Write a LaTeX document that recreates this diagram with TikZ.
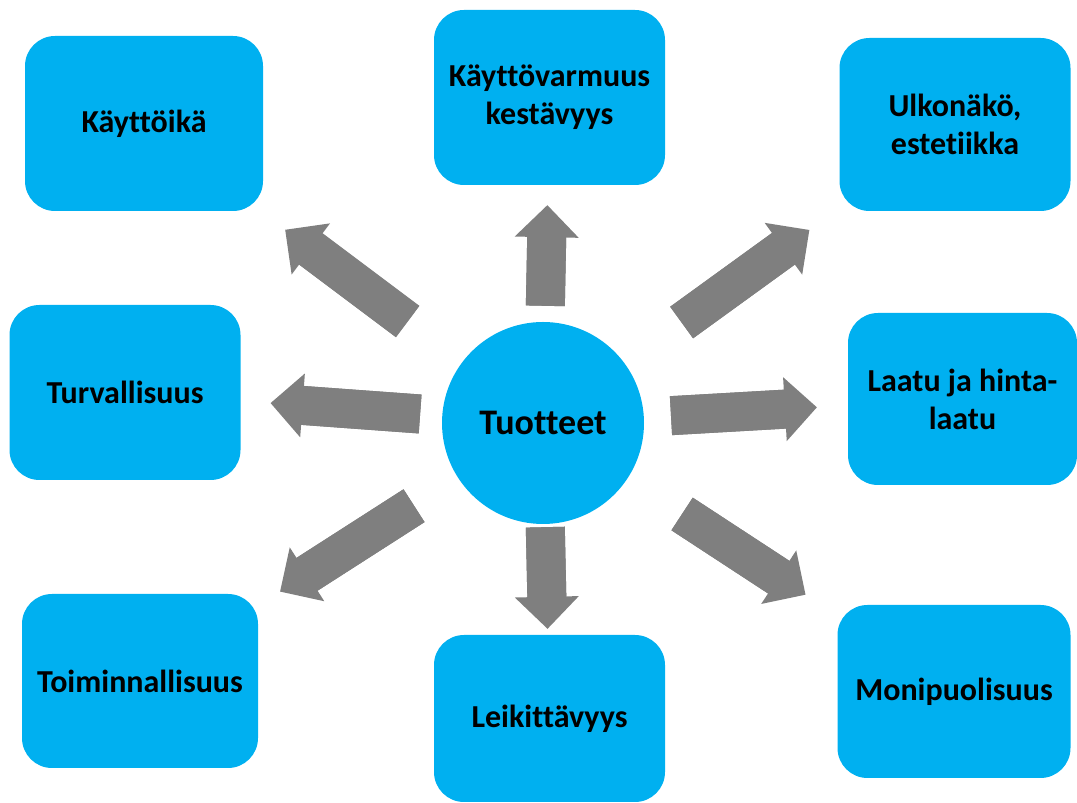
\documentclass[tikz,border=0pt]{standalone}
\usepackage{fontspec}
\setmainfont{Carlito}[Ligatures=NoCommon]
\usetikzlibrary{arrows.meta}

\definecolor{boxblue}{HTML}{00B0F0}
\definecolor{arrowgray}{HTML}{7F7F7F}

\tikzset{
  ominaisuus/.style={fill=boxblue,rounded corners=30pt,inner sep=0pt,
    minimum width=231pt,minimum height=174pt,align=center,
    font=\fontsize{32}{38}\selectfont\bfseries},
  % #1 = rako keskukseen, #2 = rako laatikkoon
  nuoli/.style 2 args={draw=arrowgray,line width=39pt,
    -{Triangle[length=32pt,width=64pt,line width=0pt]},
    shorten <=#1,shorten >=#2,
    preaction={draw=arrowgray,line width=39pt,-,shorten <=#1,shorten >=#2+28pt}}
}

\begin{document}
\begin{tikzpicture}[x=1pt,y=1pt]
\useasboundingbox (0,0) rectangle (1077,803);

% keskus
\node[circle,fill=boxblue,minimum size=202pt,inner sep=0pt,
  font=\fontsize{36}{43}\selectfont\bfseries] (tuotteet) at (543,380) {Tuotteet};

% laatikot
\node[ominaisuus,minimum width=238pt,minimum height=175pt] (kayttoika) at (144,679.5) {Käyttöikä};
\node[ominaisuus,minimum height=175pt] (varmuus) at (549.5,705.5) {Käyttövarmuus\\kestävyys};
\node[ominaisuus,minimum height=173pt] (ulkonako) at (955,678.5) {Ulkonäkö,\\estetiikka};
\node[ominaisuus,minimum height=175pt] (turva) at (125,410.5) {Turvallisuus};
\node[ominaisuus,minimum width=229pt,minimum height=172pt] (laatu) at (962.5,404) {Laatu ja hinta-\\laatu};
\node[ominaisuus,minimum width=236pt] (toiminta) at (140,122) {Toiminnallisuus};
\node[ominaisuus,minimum height=167pt] (leikki) at (549.5,84.5) {Leikittävyys};
\node[ominaisuus,minimum width=233pt,minimum height=173pt] (moni) at (954,111.5) {Monipuolisuus};

% nuolet
\draw[nuoli={68pt}{31pt}] (tuotteet) -- (kayttoika);
\draw[nuoli={16pt}{20pt}] (tuotteet) -- (varmuus);
\draw[nuoli={70pt}{37pt}] (tuotteet) -- (ulkonako);
\draw[nuoli={22pt}{30pt}] (tuotteet) -- (turva);
\draw[nuoli={27pt}{31pt}] (tuotteet) -- (laatu);
\draw[nuoli={52pt}{26pt}] (tuotteet) -- (toiminta);
\draw[nuoli={3pt}{6pt}] (tuotteet) -- (leikki);
\draw[nuoli={65pt}{38pt}] (tuotteet) -- (moni);

\end{tikzpicture}
\end{document}
